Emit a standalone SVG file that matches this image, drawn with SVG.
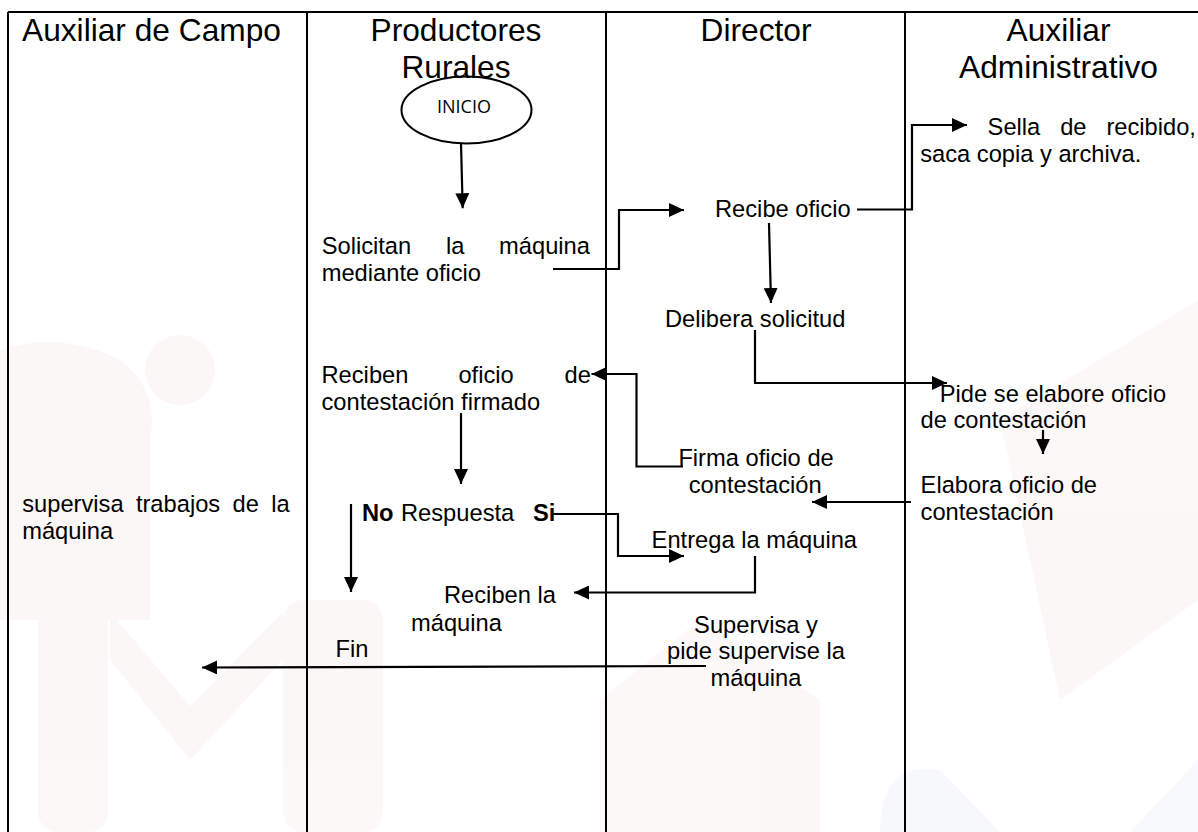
<svg xmlns="http://www.w3.org/2000/svg" width="1198" height="832" viewBox="0 0 1198 832">
<style>
  .hdr { font-family: "Liberation Sans", Arial, sans-serif; font-size: 31.7px; fill: #000; }
  .t { font-family: "Liberation Sans", Arial, sans-serif; font-size: 23.7px; fill: #000; }
  .b { font-weight: bold; }
  .mid { text-anchor: middle; }
  .lane { stroke: #000; stroke-width: 2; fill: none; }
  .wire { stroke: #000; stroke-width: 2.2; fill: none; marker-end: url(#ah); }
  .wm { fill: #f6dede; }
  .wb { fill: #dfe3ee; }
</style>
<defs>
  <marker id="ah" markerUnits="userSpaceOnUse" markerWidth="16" markerHeight="14" refX="15" refY="7" orient="auto">
    <path d="M0,0 L15,7 L0,14 Z" fill="#000"/>
  </marker>
</defs>
<rect width="1198" height="832" fill="#ffffff"/>
<g id="watermark" opacity="0.22">
  <path class="wm" d="M0,350 Q60,330 120,360 Q160,390 150,440 L150,620 L0,620 Z"/>
  <circle class="wm" cx="180" cy="370" r="35"/>
  <rect class="wm" x="38" y="600" width="70" height="232" rx="20"/>
  <rect class="wm" x="283" y="600" width="100" height="232" rx="20"/>
  <path class="wm" d="M110,612 L190,706 L283,612 L283,660 L190,760 L110,660 Z"/>
  <path class="wm" d="M600,700 L700,620 L820,700 L820,832 L600,832 Z"/>
  <path class="wm" d="M1000,420 L1198,300 L1198,600 L1060,700 Z"/>
  <path class="wb" d="M880,832 Q880,760 940,770 L1000,832 Z"/>
  <path class="wb" d="M1130,832 L1198,760 L1198,832 Z"/>
</g>
<g id="lanes">
  <line class="lane" x1="8" y1="12" x2="1198" y2="12"/>
  <line class="lane" x1="8" y1="12" x2="8" y2="832"/>
  <line class="lane" x1="307" y1="12" x2="307" y2="832"/>
  <line class="lane" x1="606" y1="12" x2="606" y2="832"/>
  <line class="lane" x1="905" y1="12" x2="905" y2="832"/>
  <text class="hdr" x="22" y="41">Auxiliar de Campo</text>
  <text class="hdr mid" x="456" y="41">Productores</text>
  <text class="hdr mid" x="456" y="77.5">Rurales</text>
  <text class="hdr mid" x="756" y="41">Director</text>
  <text class="hdr mid" x="1058.5" y="41">Auxiliar</text>
  <text class="hdr mid" x="1058.5" y="77.5">Administrativo</text>
</g>
<g id="connectors">
  <path class="wire" d="M461,143.5 L462.7,208.3"/>
  <path class="wire" d="M553,269 H619 V210 H684"/>
  <path class="wire" d="M857,209.5 H912 V125 H967"/>
  <path class="wire" d="M769,223 L771,303"/>
  <path class="wire" d="M755,330 V383 H947"/>
  <path class="wire" d="M1043,430 V454"/>
  <path class="wire" d="M911,502 H812"/>
  <path class="wire" d="M683,466.5 H636.5 V374 H591.5"/>
  <path class="wire" d="M461,413 V484"/>
  <path class="wire" d="M351,504 V592"/>
  <path class="wire" d="M553,514 H618 V556 H684"/>
  <path class="wire" d="M755,556 V592.5 H574"/>
  <path class="wire" d="M706,666 L202,667.5"/>
</g>
<g id="inicio">
  <ellipse cx="466.5" cy="110" rx="65" ry="33.5" fill="none" stroke="#000" stroke-width="2"/>
  <text x="464" y="113.3" text-anchor="middle" font-family="'Open Sans', 'Noto Sans', sans-serif" font-size="18" textLength="54" lengthAdjust="spacingAndGlyphs">INICIO</text>
</g>
<g id="solicitan">
  <text class="t" y="254"><tspan x="321.7">Solicitan</tspan><tspan x="446">la</tspan><tspan x="499.1">máquina</tspan></text>
  <text class="t" x="321.7" y="280.5">mediante oficio</text>
</g>
<g id="recibe-oficio">
  <text class="t" x="715" y="217">Recibe oficio</text>
</g>
<g id="sella">
  <text class="t" y="135"><tspan x="987.6">Sella</tspan><tspan x="1060.2">de</tspan><tspan x="1106.4">recibido,</tspan></text>
  <text class="t" x="920.2" y="161.7">saca copia y archiva.</text>
</g>
<g id="delibera">
  <text class="t" x="665" y="326.7">Delibera solicitud</text>
</g>
<g id="pide">
  <text class="t" x="939.8" y="401.7">Pide se elabore oficio</text>
  <text class="t" x="920.6" y="428.3">de contestación</text>
</g>
<g id="reciben-oficio">
  <text class="t" y="382.7"><tspan x="321.5">Reciben</tspan><tspan x="458.4">oficio</tspan><tspan x="564.5">de</tspan></text>
  <text class="t" x="321.5" y="410">contestación firmado</text>
</g>
<g id="firma">
  <text class="t" x="678.4" y="465.5">Firma oficio de</text>
  <text class="t" x="688.7" y="493">contestación</text>
</g>
<g id="elabora">
  <text class="t" x="920.6" y="492.7">Elabora oficio de</text>
  <text class="t" x="920.6" y="520">contestación</text>
</g>
<g id="supervisa-trabajos">
  <text class="t" y="512.3"><tspan x="22.2">supervisa</tspan><tspan x="135.9">trabajos</tspan><tspan x="232.5">de</tspan><tspan x="271.2">la</tspan></text>
  <text class="t" x="22.2" y="539.3">máquina</text>
</g>
<g id="respuesta">
  <text class="t" y="520.5"><tspan class="b" x="362">No</tspan><tspan x="401">Respuesta</tspan><tspan class="b" x="533">Si</tspan></text>
</g>
<g id="entrega">
  <text class="t" x="651.6" y="548.3">Entrega la máquina</text>
</g>
<g id="reciben-maquina">
  <text class="t" x="444" y="603.3">Reciben la</text>
  <text class="t" x="411" y="631">máquina</text>
</g>
<g id="supervisa">
  <text class="t mid" x="756" y="632.7">Supervisa y</text>
  <text class="t mid" x="756" y="659.3">pide supervise la</text>
  <text class="t mid" x="756" y="686">máquina</text>
</g>
<g id="fin">
  <text class="t" x="335.6" y="657.3">Fin</text>
</g>
</svg>
